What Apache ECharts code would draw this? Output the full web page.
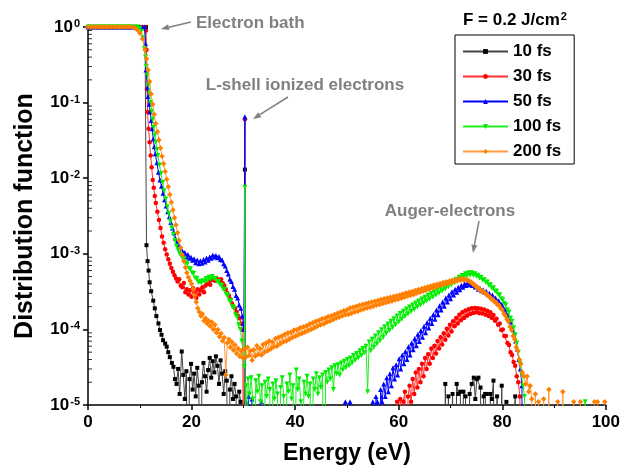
<!DOCTYPE html>
<html><head><meta charset="utf-8">
<script src="https://cdn.jsdelivr.net/npm/echarts@6/dist/echarts.min.js"></script>
<style>html,body{margin:0;padding:0;background:#fff}#c{width:623px;height:470px}</style>
</head><body><div id="c"></div>
<script>
// ---- data (energy in eV, distribution function value) ----
const Z = 1e-7; // zero count: below the 1e-5 floor, drawn as a drop to the axis
const seriesNames = ['10 fs', '30 fs', '50 fs', '100 fs', '200 fs'];
const xTickLabels = [0, 20, 40, 60, 80, 100];
const yDecades = [1e-5, 1e-4, 1e-3, 1e-2, 1e-1];
const minorMultipliers = [2, 3, 4, 5, 6, 7, 8, 9];

const s10 = [[0,1],[0.5,1],[1,1],[1.5,1],[2,1],[2.5,1],[3,1],[3.5,1],[4,1],[4.5,1],[5,1],[5.5,1],[6,1],[6.5,1],[7,1],[7.5,1],[8,1],[8.5,1],[9,1],[9.5,1],[10,1],[10.5,1],[11,1],[11.2,1],
[11.3,1.3e-3],[11.5,8e-4],[11.7,6e-4],[11.9,4.2e-4],[12.2,3.2e-4],[12.6,2.4e-4],[12.9,1.9e-4],[13.2,1.5e-4],[13.6,1.2e-4],[13.9,9.8e-5],[14.2,8.5e-5],[14.5,7.2e-5],[14.9,6.5e-5],[15.2,5.9e-5],[15.5,5e-5],[15.8,4.3e-5],[16.2,3.6e-5],[16.5,3.2e-5],[16.8,2.2e-5],[17.1,1.9e-5],[17.4,3.0e-5],[17.7,1.4e-5],[18.1,5.1e-5],[18.4,2.5e-5],[18.7,1.2e-5],[19.0,2.8e-5],[19.3,Z],[19.6,2.2e-5],[19.9,3.5e-5],[20.2,1.6e-5],[20.5,2.6e-5],[20.8,1.3e-5],[21.1,3.1e-5],[21.4,1.8e-5],[21.7,Z],[22.0,2.0e-5],[22.3,3.6e-5],[22.6,2.4e-5],[22.9,1.5e-5],[23.2,2.9e-5],[23.5,4.2e-5],[23.8,2.3e-5],[24.1,3.8e-5],[24.4,2.7e-5],[24.7,4.4e-5],[25.0,3.3e-5],[25.3,1.9e-5],[25.6,3.9e-5],[25.9,2.6e-5],[26.2,1.4e-5],[26.5,2.8e-5],[26.8,2.1e-5],[27.1,Z],[27.4,1.6e-5],[27.7,2.4e-5],[28.0,1.2e-5],[28.3,1.9e-5],[28.6,1.3e-5],[28.9,Z],[29.2,1.5e-5],[29.5,1.1e-5],[29.8,Z],[30.2,Z],[30.3,1.3e-2],[30.4,Z],
[68.9,Z],[69.0,1.9e-5],[69.3,Z],[69.6,1.3e-5],[70.0,Z],[70.4,1.4e-5],[70.8,Z],[71.2,1.9e-5],[71.5,1.4e-5],[71.9,1.5e-5],[72.2,Z],[72.5,1.5e-5],[72.9,1.3e-5],[73.3,Z],[73.7,1.4e-5],[74.1,1.9e-5],[74.5,2.3e-5],[74.8,1.2e-5],[75.1,2.2e-5],[75.4,2.3e-5],[75.8,1.7e-5],[76.1,Z],[76.4,1.3e-5],[76.7,1.4e-5],[77.0,1.4e-5],[77.4,Z],[77.7,1.4e-5],[78.0,1.2e-5],[78.3,2.1e-5],[78.6,Z],[79.0,1.3e-5],[79.5,Z],[79.9,1.8e-5],[80.3,Z],[80.8,1.1e-5],[81.2,Z],[82.5,1.3e-5],[82.8,Z]];

const s30 = [[0,1],[0.5,1],[1,1],[1.5,1],[2,1],[2.5,1],[3,1],[3.5,1],[4,1],[4.5,1],[5,1],[5.5,1],[6,1],[6.5,1],[7,1],[7.5,1],[8,1],[8.5,1],[9,1],[9.5,1],[10,1],[10.5,1],[11,1],[11.2,0.9],
[11.3,0.5],[11.4,0.15],[11.5,0.075],[11.7,0.045],[11.9,0.03],[12.1,0.02],[12.3,0.014],[12.5,0.0095],[12.7,0.0075],[12.9,0.0058],[13.1,0.0047],[13.4,0.0036],[13.7,0.0028],[14.0,0.0022],[14.3,0.0017],[14.6,0.0014],[14.9,0.00115],[15.2,9.8e-4],[15.5,8.5e-4],[15.8,7.4e-4],[16.1,6.5e-4],[16.4,5.8e-4],[16.7,5.2e-4],[17.0,4.7e-4],[17.3,4.3e-4],[17.6,4.6e-4],[17.9,3.8e-4],[18.2,3.6e-4],[18.5,4.1e-4],[18.8,3.1e-4],[19.1,3.4e-4],[19.4,2.9e-4],[19.7,3.3e-4],[20.0,2.7e-4],[20.3,3.5e-4],[20.6,3.1e-4],[20.9,2.6e-4],[21.2,3.4e-4],[21.5,2.9e-4],[21.8,3.3e-4],[22.1,3.6e-4],[22.4,3.1e-4],[22.7,3.8e-4],[23.0,4.0e-4],[23.3,4.3e-4],[23.6,3.9e-4],[23.9,4.5e-4],[24.2,4.7e-4],[24.5,4.4e-4],[24.8,4.8e-4],[25.1,4.5e-4],[25.4,4.3e-4],[25.7,4.6e-4],[26.0,4.1e-4],[26.3,3.8e-4],[26.6,3.4e-4],[26.9,3.0e-4],[27.2,2.8e-4],[27.5,2.5e-4],[27.8,2.2e-4],[28.1,2.0e-4],[28.4,1.9e-4],[28.7,1.7e-4],[29.0,1.5e-4],[29.3,1.4e-4],[29.6,1.2e-4],[29.9,1.0e-4],[30.0,Z],[30.2,Z],[30.3,6.0e-2],[30.4,Z],
[59.4,Z],[59.7,1.1e-5],[60.0,Z],[60.3,1.2e-5],[60.6,Z],[60.9,1.1e-5],[61.2,1.5e-5],[61.5,Z],[61.8,1.3e-5],[62.1,1.8e-5],[62.4,1.1e-5],[62.7,2.2e-5],[63.0,1.4e-5],[63.3,2.7e-5],[63.6,1.7e-5],[63.9,3.0e-5],[64.2,2.0e-5],[64.5,3.5e-5],[64.8,2.4e-5],[65.1,4.2e-5],[65.4,3.0e-5],[65.7,4.7e-5],[66.0,3.5e-5],[66.3,5.6e-5],[66.6,4.2e-5],[66.9,6.1e-5],[67.2,4.8e-5],[67.5,7.0e-5],[67.8,5.6e-5],[68.1,7.9e-5],[68.4,6.3e-5],[68.7,8.9e-5],[69.0,7.3e-5],[69.3,1.02e-4],[69.6,8.3e-5],[69.9,1.15e-4],[70.2,9.4e-5],[70.5,1.28e-4],[70.8,1.1e-4],[71.1,1.42e-4],[71.4,1.2e-4],[71.7,1.56e-4],[72.0,1.32e-4],[72.3,1.68e-4],[72.6,1.42e-4],[72.9,1.78e-4],[73.2,1.52e-4],[73.5,1.85e-4],[73.8,1.6e-4],[74.1,1.9e-4],[74.4,1.65e-4],[74.7,1.92e-4],[75.0,1.68e-4],[75.3,1.9e-4],[75.6,1.64e-4],[75.9,1.88e-4],[76.2,1.62e-4],[76.5,1.84e-4],[76.8,1.56e-4],[77.1,1.76e-4],[77.4,1.5e-4],[77.7,1.68e-4],[78.0,1.42e-4],[78.3,1.55e-4],[78.6,1.3e-4],[78.9,1.38e-4],[79.2,1.15e-4],[79.5,1.2e-4],[79.8,9.8e-5],[80.1,1.0e-4],[80.4,8.2e-5],[80.7,8.2e-5],[81.0,6.6e-5],[81.3,6.2e-5],[81.6,5.0e-5],[81.9,4.6e-5],[82.2,3.7e-5],[82.5,3.3e-5],[82.8,2.4e-5],[83.1,2.0e-5],[83.4,1.3e-5],[83.6,Z]];

const s50 = [[0,1],[0.5,1],[1,1],[1.5,1],[2,1],[2.5,1],[3,1],[3.5,1],[4,1],[4.5,1],[5,1],[5.5,1],[6,1],[6.5,1],[7,1],[7.5,1],[8,1],[8.5,1],[9,1],[9.5,1],[10,1],[10.5,1],[11,1],
[11.1,0.6],[11.2,0.27],[11.5,0.16],[11.6,0.12],[11.8,0.095],[12.0,0.075],[12.2,0.058],[12.4,0.045],[12.6,0.033],[12.8,0.026],[13.0,0.021],[13.3,0.016],[13.6,0.012],[13.9,0.0095],[14.2,0.0078],[14.5,0.0063],[14.8,0.0052],[15.1,0.0043],[15.4,0.0036],[15.7,0.0031],[16.0,0.0026],[16.3,0.0022],[16.6,0.0019],[16.9,0.0016],[17.2,0.0014],[17.5,0.0013],[17.8,0.0012],[18.1,1.12e-3],[18.4,1.02e-3],[18.7,1.04e-3],[19.0,9.1e-4],[19.3,9.8e-4],[19.6,8.7e-4],[19.9,9.0e-4],[20.2,8.2e-4],[20.5,8.6e-4],[20.8,7.6e-4],[21.1,8.3e-4],[21.4,7.4e-4],[21.7,8.1e-4],[22.0,7.5e-4],[22.3,8.4e-4],[22.6,7.8e-4],[22.9,8.8e-4],[23.2,8.2e-4],[23.5,9.1e-4],[23.8,8.7e-4],[24.1,9.6e-4],[24.4,9.1e-4],[24.7,9.5e-4],[25.0,8.9e-4],[25.3,9.2e-4],[25.6,8.4e-4],[25.9,8.3e-4],[26.2,7.4e-4],[26.5,6.9e-4],[26.8,6.0e-4],[27.1,5.4e-4],[27.4,4.6e-4],[27.7,4.3e-4],[28.0,3.7e-4],[28.3,3.4e-4],[28.6,2.8e-4],[28.9,2.6e-4],[29.2,2.1e-4],[29.5,1.9e-4],[29.8,1.5e-4],[30.0,1.2e-4],[30.1,1.0e-4],[30.3,6.5e-2],[30.4,Z],
[30.5,1.1e-5],[30.7,Z],[31.0,1.3e-5],[31.3,Z],[31.7,1.2e-5],[32.0,Z],[33.5,1.1e-5],[33.8,Z],[49.4,Z],[49.7,1.1e-5],[50.1,Z],[50.6,1.1e-5],[51.0,Z],[54.8,Z],[55.0,1.1e-5],[55.3,Z],[55.6,1.3e-5],[55.9,1.1e-5],[56.2,Z],[56.5,1.6e-5],[56.8,1.1e-5],[57.1,1.9e-5],[57.4,1.3e-5],[57.7,2.3e-5],[58.0,1.5e-5],[58.3,2.6e-5],[58.6,1.8e-5],[58.9,3.1e-5],[59.2,2.2e-5],[59.5,3.4e-5],[59.8,2.5e-5],[60.1,4.1e-5],[60.4,3.0e-5],[60.7,4.6e-5],[61.0,3.5e-5],[61.3,5.1e-5],[61.6,4.0e-5],[61.9,5.9e-5],[62.2,4.6e-5],[62.5,6.6e-5],[62.8,5.4e-5],[63.1,7.6e-5],[63.4,6.1e-5],[63.7,8.6e-5],[64.0,6.9e-5],[64.3,9.7e-5],[64.6,7.9e-5],[64.9,1.1e-4],[65.2,9.0e-5],[65.5,1.23e-4],[65.8,1.04e-4],[66.1,1.4e-4],[66.4,1.2e-4],[66.7,1.58e-4],[67.0,1.36e-4],[67.3,1.8e-4],[67.6,1.56e-4],[67.9,2.05e-4],[68.2,1.8e-4],[68.5,2.3e-4],[68.8,2.02e-4],[69.1,2.6e-4],[69.4,2.3e-4],[69.7,2.85e-4],[70.0,2.55e-4],[70.3,3.15e-4],[70.6,2.85e-4],[70.9,3.4e-4],[71.2,3.1e-4],[71.5,3.6e-4],[71.8,3.35e-4],[72.1,3.85e-4],[72.4,3.6e-4],[72.7,4.0e-4],[73.0,3.8e-4],[73.3,4.15e-4],[73.6,3.9e-4],[73.9,4.05e-4],[74.2,3.8e-4],[74.5,3.95e-4],[74.8,3.65e-4],[75.1,3.7e-4],[75.4,3.4e-4],[75.7,3.5e-4],[76.0,3.25e-4],[76.3,3.35e-4],[76.6,3.1e-4],[76.9,3.2e-4],[77.2,2.95e-4],[77.5,3.0e-4],[77.8,2.75e-4],[78.1,2.85e-4],[78.4,2.55e-4],[78.7,2.6e-4],[79.0,2.35e-4],[79.3,2.4e-4],[79.6,2.15e-4],[79.9,2.15e-4],[80.2,1.9e-4],[80.5,1.85e-4],[80.8,1.6e-4],[81.1,1.55e-4],[81.4,1.3e-4],[81.7,1.25e-4],[82.0,1.0e-4],[82.3,9e-5],[82.6,7e-5],[82.9,5.5e-5],[83.2,4e-5],[83.5,3e-5],[83.8,1.8e-5],[84.0,Z]];

const s100 = [[0,1],[0.5,1],[1,1],[1.5,1],[2,1],[2.5,1],[3,1],[3.5,1],[4,1],[4.5,1],[5,1],[5.5,1],[6,1],[6.5,1],[7,1],[7.5,1],[8,1],[8.5,1],[9,1],[9.5,1],
[10.0,0.96],[10.3,0.88],[10.6,0.72],[10.9,0.52],[11.1,0.4],[11.3,0.3],[11.5,0.23],[11.7,0.17],[11.9,0.13],[12.1,0.1],[12.3,0.077],[12.5,0.06],[12.7,0.047],[12.9,0.037],[13.1,0.03],[13.3,0.024],[13.5,0.02],[13.8,0.015],[14.1,0.0115],[14.4,0.0088],[14.7,0.0068],[15.0,0.0053],[15.3,0.0042],[15.6,0.0034],[15.9,0.0027],[16.2,0.0022],[16.5,0.0018],[16.8,0.0015],[17.1,1.26e-3],[17.4,1.12e-3],[17.7,1.0e-3],[18.0,9.4e-4],[18.3,8.6e-4],[18.6,8.6e-4],[18.9,7.6e-4],[19.2,7.4e-4],[19.5,6.4e-4],[19.8,6.3e-4],[20.1,5.6e-4],[20.4,5.5e-4],[20.7,4.8e-4],[21.0,4.7e-4],[21.3,4.2e-4],[21.6,4.3e-4],[21.9,4.1e-4],[22.2,4.4e-4],[22.5,4.3e-4],[22.8,4.7e-4],[23.1,4.4e-4],[23.4,4.9e-4],[23.7,4.6e-4],[24.0,5.0e-4],[24.3,4.7e-4],[24.6,4.7e-4],[24.9,4.3e-4],[25.2,4.3e-4],[25.5,3.9e-4],[25.8,3.8e-4],[26.1,3.4e-4],[26.4,3.4e-4],[26.7,2.9e-4],[27.0,2.8e-4],[27.3,2.4e-4],[27.6,2.4e-4],[27.9,2.0e-4],[28.2,1.9e-4],[28.5,1.55e-4],[28.8,1.45e-4],[29.1,1.15e-4],[29.4,1.0e-4],[29.7,7e-5],[30.0,4.5e-5],[30.2,3.2e-5],[30.3,7.6e-3],[30.4,Z],
[30.5,1.8e-5],[30.7,Z],[30.9,2.2e-5],[31.2,1.4e-5],[31.5,2.3e-5],[31.8,1.2e-5],[32.1,Z],[32.4,2.1e-5],[32.7,1.5e-5],[33.0,2.4e-5],[33.3,1.1e-5],[33.6,1.8e-5],[33.9,Z],[34.2,2.0e-5],[34.5,1.3e-5],[34.8,2.2e-5],[35.1,1.6e-5],[35.4,Z],[35.7,1.9e-5],[36.0,1.2e-5],[36.3,2.1e-5],[36.6,1.4e-5],[36.9,Z],[37.2,1.7e-5],[37.5,2.3e-5],[37.8,1.3e-5],[38.1,Z],[38.4,1.9e-5],[38.7,1.5e-5],[39.0,2.5e-5],[39.3,1.2e-5],[39.6,1.8e-5],[39.9,Z],[40.2,2.9e-5],[40.5,1.6e-5],[40.8,2.2e-5],[41.1,1.1e-5],[41.4,Z],[41.7,2.0e-5],[42.0,1.4e-5],[42.3,2.4e-5],[42.6,1.3e-5],[42.9,1.9e-5],[43.2,Z],[43.5,2.2e-5],[43.8,1.6e-5],[44.1,2.6e-5],[44.4,1.4e-5],[44.7,2.3e-5],[45.0,1.7e-5],[45.3,2.5e-5],[45.6,Z],[45.9,2.7e-5],[46.2,2.0e-5],[46.5,2.9e-5],[46.8,2.2e-5],[47.1,3.1e-5],[47.4,1.6e-5],[47.7,3.3e-5],[48.0,2.6e-5],[48.3,3.4e-5],[48.6,2.5e-5],[48.9,3.6e-5],[49.2,2.9e-5],[49.5,3.8e-5],[49.8,3.1e-5],[50.1,4.0e-5],[50.4,3.3e-5],[50.7,4.2e-5],[51.0,3.6e-5],[51.3,4.5e-5],[51.6,3.9e-5],[51.9,4.8e-5],[52.2,4.2e-5],[52.5,5.2e-5],[52.8,4.5e-5],[53.1,5.6e-5],[53.4,4.9e-5],[53.7,6.0e-5],[54.0,1.5e-5],
[54.3,6.8e-5],[54.6,5.2e-5],[54.9,7.4e-5],[55.2,5.8e-5],[55.5,8.2e-5],[55.8,6.4e-5],[56.1,9.0e-5],[56.4,7.1e-5],[56.7,9.9e-5],[57.0,7.9e-5],[57.3,1.08e-4],[57.6,8.8e-5],[57.9,1.18e-4],[58.2,9.7e-5],[58.5,1.28e-4],[58.8,1.06e-4],[59.1,1.38e-4],[59.4,1.15e-4],[59.7,1.5e-4],[60.0,1.25e-4],[60.3,1.62e-4],[60.6,1.36e-4],[60.9,1.74e-4],[61.2,1.48e-4],[61.5,1.86e-4],[61.8,1.6e-4],[62.1,1.98e-4],[62.4,1.72e-4],[62.7,2.1e-4],[63.0,1.84e-4],[63.3,2.24e-4],[63.6,1.98e-4],[63.9,2.38e-4],[64.2,2.1e-4],[64.5,2.52e-4],[64.8,2.24e-4],[65.1,2.66e-4],[65.4,2.38e-4],[65.7,2.82e-4],[66.0,2.52e-4],[66.3,2.98e-4],[66.6,2.68e-4],[66.9,3.14e-4],[67.2,2.86e-4],[67.5,3.32e-4],[67.8,3.04e-4],[68.1,3.5e-4],[68.4,3.22e-4],[68.7,3.7e-4],[69.0,3.42e-4],[69.3,3.92e-4],[69.6,3.66e-4],[69.9,4.14e-4],[70.2,3.9e-4],[70.5,4.38e-4],[70.8,4.15e-4],[71.1,4.62e-4],[71.4,4.4e-4],[71.7,4.9e-4],[72.0,4.65e-4],[72.3,5.15e-4],[72.6,4.9e-4],[72.9,5.45e-4],[73.2,5.1e-4],[73.5,5.6e-4],[73.8,5.2e-4],[74.1,5.6e-4],[74.4,5.2e-4],[74.7,5.45e-4],[75.0,5.05e-4],[75.3,5.2e-4],[75.6,4.8e-4],[75.9,4.9e-4],[76.2,4.5e-4],[76.5,4.55e-4],[76.8,4.2e-4],[77.1,4.25e-4],[77.4,3.85e-4],[77.7,3.9e-4],[78.0,3.5e-4],[78.3,3.55e-4],[78.6,3.2e-4],[78.9,3.2e-4],[79.2,2.9e-4],[79.5,2.85e-4],[79.8,2.55e-4],[80.1,2.45e-4],[80.4,2.2e-4],[80.7,2.1e-4],[81.0,1.8e-4],[81.3,1.7e-4],[81.6,1.42e-4],[81.9,1.28e-4],[82.2,1.05e-4],[82.5,8.5e-5],[82.8,6.6e-5],[83.1,5e-5],[83.4,3.6e-5],[83.7,2.6e-5],[84.0,1.8e-5],[84.3,1.3e-5],[84.6,Z],[95.7,Z],[96.0,1.1e-5],[96.3,Z]];

const s200 = [[0,1],[0.5,1],[1,1],[1.5,1],[2,1],[2.5,1],[3,1],[3.5,1],[4,1],[4.5,1],[5,1],[5.5,1],[6,1],[6.5,1],[7,1],[7.5,1],[8,1],[8.5,1],
[9.0,0.97],[9.5,0.92],[10.0,0.83],[10.5,0.7],[11.0,0.5],[11.3,0.38],[11.6,0.27],[11.9,0.19],[12.2,0.13],[12.5,0.095],[12.8,0.07],[13.1,0.053],[13.4,0.041],[13.7,0.032],[14.0,0.025],[14.3,0.0195],[14.6,0.0155],[14.9,0.0123],[15.2,0.0097],[15.5,0.0077],[15.8,0.0061],[16.1,0.0048],[16.4,0.0038],[16.7,0.003],[17.0,0.0024],[17.3,0.0019],[17.6,0.0015],[17.9,0.0012],[18.2,9.7e-4],[18.5,8.0e-4],[18.8,6.6e-4],[19.1,5.6e-4],[19.4,4.9e-4],[19.7,4.4e-4],[20.0,4.0e-4],[20.3,3.4e-4],[20.6,2.8e-4],[20.9,2.3e-4],[21.2,1.9e-4],[21.5,1.7e-4],[21.8,1.5e-4],[22.1,1.6e-4],[22.4,1.3e-4],[22.7,1.4e-4],[23.0,1.2e-4],[23.3,1.3e-4],[23.6,1.1e-4],[23.9,1.25e-4],[24.2,1.0e-4],[24.5,1.15e-4],[24.8,9e-5],[25.1,1.0e-4],[25.4,8e-5],[25.7,8.8e-5],[26.0,7e-5],[26.3,7.8e-5],[26.6,2.5e-5],[26.9,6.6e-5],[27.2,7.4e-5],[27.5,5.8e-5],[27.8,6.8e-5],[28.1,5.3e-5],[28.4,6.2e-5],[28.7,4.8e-5],[29.0,5.6e-5],[29.3,4.4e-5],[29.6,5.2e-5],[29.9,4.2e-5],[30.2,5.5e-5],[30.5,4.3e-5],[30.8,5.8e-5],[31.1,4.5e-5],[31.4,5.2e-5],[31.7,3.9e-5],[32.0,5.4e-5],[32.3,4.4e-5],[32.6,6.1e-5],[32.9,4.7e-5],[33.2,5.6e-5],[33.5,4.6e-5],[33.8,6.3e-5],[34.1,5.0e-5],[34.4,6.6e-5],[34.7,5.2e-5],[35.0,7.0e-5],[35.3,5.5e-5],[35.6,6.8e-5],[35.9,5.9e-5],[36.2,7.6e-5],[36.5,6.0e-5],[36.8,7.9e-5],[37.1,6.4e-5],[37.4,8.2e-5],[37.7,6.8e-5],[38.0,8.6e-5],[38.3,7.0e-5],[38.6,9.0e-5],[38.9,7.4e-5],[39.2,9.2e-5],[39.5,7.8e-5],[39.8,9.8e-5],[40.1,8.1e-5],[40.4,1.0e-4],[40.7,8.5e-5],[41.0,1.05e-4],[41.3,8.8e-5],[41.6,1.08e-4],[41.9,9.2e-5],[42.2,1.12e-4],[42.5,9.6e-5],[42.8,1.18e-4],[43.1,1.0e-4],[43.4,1.22e-4],[43.7,1.04e-4],[44.0,1.28e-4],[44.3,1.1e-4],[44.6,1.32e-4],[44.9,1.14e-4],[45.2,1.38e-4],[45.5,1.18e-4],[45.8,1.42e-4],[46.1,1.24e-4],[46.4,1.48e-4],[46.7,1.28e-4],[47.0,1.52e-4],[47.3,1.34e-4],[47.6,1.58e-4],[47.9,1.4e-4],[48.2,1.64e-4],[48.5,1.45e-4],[48.8,1.7e-4],[49.1,1.5e-4],[49.4,1.76e-4],[49.7,1.56e-4],[50.0,1.82e-4],
[50.3,1.58e-4],[50.6,1.92e-4],[50.9,1.64e-4],[51.2,1.96e-4],[51.5,1.7e-4],[51.8,2.02e-4],[52.1,1.74e-4],[52.4,2.08e-4],[52.7,1.8e-4],[53.0,2.14e-4],[53.3,1.86e-4],[53.6,2.18e-4],[53.9,1.92e-4],[54.2,2.26e-4],[54.5,1.96e-4],[54.8,2.3e-4],[55.1,2.02e-4],[55.4,2.36e-4],[55.7,2.08e-4],[56.0,2.42e-4],[56.3,2.14e-4],[56.6,2.48e-4],[56.9,2.2e-4],[57.2,2.54e-4],[57.5,2.26e-4],[57.8,2.6e-4],[58.1,2.32e-4],[58.4,2.66e-4],[58.7,2.38e-4],[59.0,2.72e-4],[59.3,2.44e-4],[59.6,2.78e-4],[59.9,2.5e-4],[60.2,2.86e-4],[60.5,2.58e-4],[60.8,2.94e-4],[61.1,2.66e-4],[61.4,3.02e-4],[61.7,2.74e-4],[62.0,3.1e-4],[62.3,2.82e-4],[62.6,3.18e-4],[62.9,2.9e-4],[63.2,3.26e-4],[63.5,3.0e-4],[63.8,3.36e-4],[64.1,3.1e-4],[64.4,3.46e-4],[64.7,3.2e-4],[65.0,3.56e-4],[65.3,3.3e-4],[65.6,3.66e-4],[65.9,3.4e-4],[66.2,3.76e-4],[66.5,3.5e-4],[66.8,3.86e-4],[67.1,3.62e-4],[67.4,3.96e-4],[67.7,3.74e-4],[68.0,4.06e-4],[68.3,3.86e-4],[68.6,4.16e-4],[68.9,3.96e-4],[69.2,4.26e-4],[69.5,4.06e-4],[69.8,4.36e-4],[70.1,4.16e-4],[70.4,4.46e-4],[70.7,4.26e-4],[71.0,4.56e-4],[71.3,4.36e-4],[71.6,4.64e-4],[71.9,4.46e-4],[72.2,4.7e-4],[72.5,4.5e-4],[72.8,4.64e-4],[73.1,4.44e-4],[73.4,4.5e-4],[73.7,4.26e-4],[74.0,4.24e-4],[74.3,4.0e-4],[74.6,3.94e-4],[74.9,3.7e-4],[75.2,3.64e-4],[75.5,3.4e-4],[75.8,3.34e-4],[76.1,3.16e-4],[76.4,3.14e-4],[76.7,2.96e-4],[77.0,2.94e-4],[77.3,2.76e-4],[77.6,2.7e-4],[77.9,2.5e-4],[78.2,2.48e-4],[78.5,2.3e-4],[78.8,2.28e-4],[79.1,2.1e-4],[79.4,2.08e-4],[79.7,1.9e-4],[80.0,1.82e-4],[80.3,1.62e-4],[80.6,1.52e-4],[80.9,1.36e-4],[81.2,1.27e-4],[81.5,1.08e-4],[81.8,9.8e-5],[82.1,8.2e-5],[82.4,7.4e-5],[82.7,5.8e-5],[83.0,5.2e-5],[83.3,4.0e-5],[83.6,3.5e-5],[83.9,2.7e-5],[84.2,2.4e-5],[84.5,1.9e-5],[84.8,2.4e-5],[85.1,1.5e-5],[85.4,1.8e-5],[85.7,1.2e-5],[86.0,Z],[86.4,1.4e-5],[86.7,Z],[87.0,1.1e-5],[87.3,Z],[88.0,1.2e-5],[88.3,Z],[89.0,1.6e-5],[89.3,Z],[90.7,1.1e-5],[91.0,Z],[91.7,1.5e-5],[92.0,Z],[93.8,1.1e-5],[94.1,Z],[95.1,1.1e-5],[95.4,Z],[97.8,1.1e-5],[98.4,1.1e-5],[98.7,Z],[99.8,1.1e-5]];

// ---- styling ----
const FONT = 'Liberation Sans, Arial, sans-serif';
const GRAY = '#808080';
const seriesData = [s10, s30, s50, s100, s200];
const markerColors = ['#000000', '#ff0000', '#0000ff', '#00ee00', '#ff8000'];
const lineColors = ['#444444', '#ff3030', '#0000ff', '#22ee22', '#ff9a3c'];
const symbols = ['rect', 'circle', 'triangle', 'path://M0,0 L10,0 L5,10 Z', 'diamond'];
const symbolSizes = [4, 4.5, 5, 5, 5.5];

const minorTickData = [];
yDecades.forEach(d => minorMultipliers.forEach(m => minorTickData.push([0, d * m])));

const chart = echarts.init(document.getElementById('c'), null, {renderer: 'canvas'});

const series = seriesNames.map((name, i) => ({
  name, type: 'line', data: seriesData[i],
  symbol: symbols[i], symbolSize: symbolSizes[i], showAllSymbol: true,
  lineStyle: {color: lineColors[i], width: 1},
  itemStyle: {color: markerColors[i]},
  emphasis: {disabled: true}, clip: true, z: 2 + i
}));
series.push({
  name: 'minor', type: 'scatter', data: minorTickData, silent: true, clip: false,
  symbol: 'rect', symbolSize: [4, 1], symbolOffset: [2, 0],
  itemStyle: {color: '#000'}, z: 10, tooltip: {show: false}
});

chart.setOption({
  animation: false,
  backgroundColor: '#fff',
  grid: {left: 88, right: 17, top: 27, bottom: 65, containLabel: false},
  legend: {
    data: seriesNames, orient: 'vertical', left: 455, top: 35,
    width: 120, padding: [7, 13, 3, 7], itemGap: 6, itemWidth: 45, itemHeight: 6,
    borderColor: '#000', borderWidth: 1, backgroundColor: '#fff',
    textStyle: {fontFamily: FONT, fontSize: 17, fontWeight: 'bold', color: '#000', lineHeight: 19},
    selectedMode: false
  },
  xAxis: {
    type: 'value', min: 0, max: 100, interval: 20,
    axisLine: {show: true, onZero: false, lineStyle: {color: '#000', width: 1.5}},
    axisTick: {show: true, length: 5, lineStyle: {color: '#000', width: 1.5}},
    minorTick: {show: true, splitNumber: 2, length: 3, lineStyle: {color: '#000', width: 1}},
    splitLine: {show: false},
    axisLabel: {margin: 9, fontFamily: FONT, fontSize: 17, fontWeight: 'bold', color: '#000',
      formatter: v => (xTickLabels.indexOf(v) >= 0 ? String(v) : '')},
    name: 'Energy (eV)', nameLocation: 'middle', nameGap: 37,
    nameTextStyle: {fontFamily: FONT, fontSize: 23, fontWeight: 'bold', color: '#000'}
  },
  yAxis: {
    type: 'log', logBase: 10, min: 1e-5, max: 1,
    axisLine: {show: true, lineStyle: {color: '#000', width: 1.5}},
    axisTick: {show: true, length: 5, lineStyle: {color: '#000', width: 1.5}},
    splitLine: {show: false},
    axisLabel: {
      margin: 8,
      formatter: v => '{b|10}{s|' + Math.round(Math.log10(v)) + '}',
      rich: {
        b: {fontFamily: FONT, fontSize: 17, fontWeight: 'bold', color: '#000'},
        s: {fontFamily: FONT, fontSize: 11, fontWeight: 'bold', color: '#000', verticalAlign: 'top', padding: [0, 0, 6, 1]}
      }
    },
    name: 'Distribution function', nameLocation: 'middle', nameGap: 50,
    nameTextStyle: {fontFamily: FONT, fontSize: 25, fontWeight: 'bold', color: '#000'}
  },
  graphic: [
    {type: 'text', x: 515, y: 20, style: {
      text: '{a|F = 0.2 J/cm}{s|2}', align: 'center', verticalAlign: 'middle',
      rich: {a: {fontFamily: FONT, fontSize: 17, fontWeight: 'bold', fill: '#000', color: '#000'},
             s: {fontFamily: FONT, fontSize: 11, fontWeight: 'bold', fill: '#000', color: '#000', verticalAlign: 'top', padding: [0, 0, 6, 1]}}}},
    {type: 'text', x: 196, y: 23, style: {text: 'Electron bath', fill: GRAY, font: 'bold 17px ' + FONT, align: 'left', verticalAlign: 'middle'}},
    {type: 'line', shape: {x1: 191, y1: 22, x2: 168.8, y2: 27.2}, style: {stroke: GRAY, lineWidth: 1.5}},
    {type: 'polygon', shape: {points: [[161, 29], [168.1, 24.3], [169.5, 30.1]]}, style: {fill: GRAY}},
    {type: 'text', x: 305, y: 85, style: {text: 'L-shell ionized electrons', fill: GRAY, font: 'bold 17px ' + FONT, align: 'center', verticalAlign: 'middle'}},
    {type: 'line', shape: {x1: 288, y1: 97, x2: 259.8, y2: 114.7}, style: {stroke: GRAY, lineWidth: 1.5}},
    {type: 'polygon', shape: {points: [[253, 119], [258.2, 112.2], [261.4, 117.2]]}, style: {fill: GRAY}},
    {type: 'text', x: 450, y: 211, style: {text: 'Auger-electrons', fill: GRAY, font: 'bold 17px ' + FONT, align: 'center', verticalAlign: 'middle'}},
    {type: 'line', shape: {x1: 479, y1: 221, x2: 474.4, y2: 245.1}, style: {stroke: GRAY, lineWidth: 1.5}},
    {type: 'polygon', shape: {points: [[473, 253], [471.4, 244.6], [477.4, 245.6]]}, style: {fill: GRAY}}
  ],
  series
});
</script></body></html>
